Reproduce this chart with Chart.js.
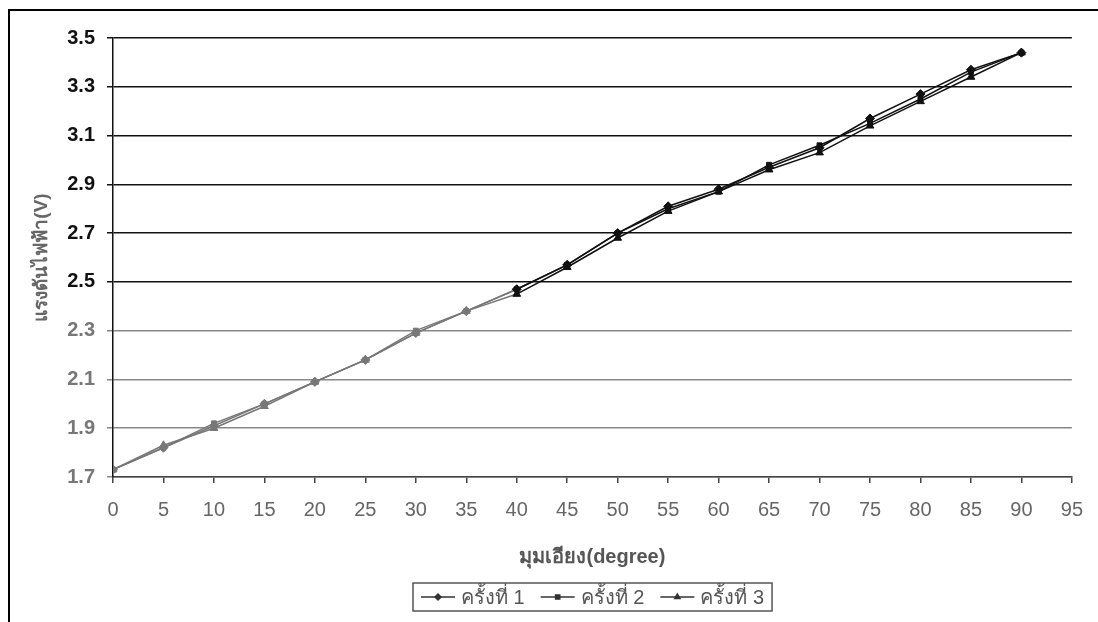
<!DOCTYPE html>
<html>
<head>
<meta charset="utf-8">
<script src="https://cdn.jsdelivr.net/npm/chart.js@4.4.0/dist/chart.umd.min.js"></script>
<style>
  html, body { margin: 0; padding: 0; background: #fff; }
  canvas { display: block; }
</style>
</head>
<body>
<canvas id="voltChart" width="1098" height="622"></canvas>
<script>
// tilt angle (degree) vs voltage (V), three runs
const angles = [0, 5, 10, 15, 20, 25, 30, 35, 40, 45, 50, 55, 60, 65, 70, 75, 80, 85, 90];
const run1 = [1.73, 1.82, 1.91, 2.00, 2.09, 2.18, 2.29, 2.38, 2.47, 2.57, 2.70, 2.81, 2.88, 2.97, 3.05, 3.17, 3.27, 3.37, 3.44];
const run2 = [1.73, 1.82, 1.92, 2.00, 2.09, 2.18, 2.30, 2.38, 2.47, 2.57, 2.70, 2.80, 2.87, 2.98, 3.06, 3.15, 3.25, 3.36, 3.44];
const run3 = [1.73, 1.83, 1.90, 1.99, 2.09, 2.18, 2.29, 2.38, 2.45, 2.56, 2.68, 2.79, 2.87, 2.96, 3.03, 3.14, 3.24, 3.34, 3.44];
const runLabels = ['ครั้งที่ 1', 'ครั้งที่ 2', 'ครั้งที่ 3'];
const runMarkers = ['rectRot', 'rect', 'triangle'];
const yTicks = [1.7, 1.9, 2.1, 2.3, 2.5, 2.7, 2.9, 3.1, 3.3, 3.5];
const xTicks = [0, 5, 10, 15, 20, 25, 30, 35, 40, 45, 50, 55, 60, 65, 70, 75, 80, 85, 90, 95];

const fontFamily = "'Liberation Sans', Arial, 'DejaVu Sans', sans-serif";
const dark = '#111';
const faded = '#777';

// the scan is lighter in the lower left part of the plot
const lineColour = ctx => (ctx.raw && ctx.raw.x < 40 ? faded : dark);

const toPoints = vals => vals.map((v, i) => ({ x: angles[i], y: v }));

const datasets = [run1, run2, run3].map((vals, i) => ({
  label: runLabels[i],
  data: toPoints(vals),
  borderColor: dark,
  borderWidth: 1.5,
  pointStyle: runMarkers[i],
  pointRadius: i === 1 ? 3.5 : 4.5,
  pointBackgroundColor: lineColour,
  pointBorderColor: lineColour,
  pointBorderWidth: 1,
  tension: 0,
  segment: {
    borderColor: ctx => (ctx.p0.parsed.x < 40 ? faded : dark)
  }
}));

// outer frame like the scanned page
const framePlugin = {
  id: 'frame',
  beforeDraw(chart) {
    const { ctx } = chart;
    ctx.save();
    ctx.strokeStyle = '#000';
    ctx.lineWidth = 2;
    ctx.beginPath();
    ctx.moveTo(9, chart.height);
    ctx.lineTo(9, 10);
    ctx.lineTo(chart.width, 10);
    ctx.stroke();
    ctx.restore();
  }
};

// excel style legend: line + marker, boxed, under the x title
const boxLegend = {
  id: 'boxLegend',
  afterDraw(chart) {
    const { ctx, chartArea } = chart;
    const lineLen = 34;
    const gapText = 6;
    const gapItem = 16;
    const padX = 8;
    const boxH = 28;
    const cy = 597;
    ctx.save();
    ctx.font = `20px ${fontFamily}`;
    const widths = chart.data.datasets.map(d => ctx.measureText(d.label).width);
    const total = widths.reduce((s, w) => s + lineLen + gapText + w, 0) + gapItem * (widths.length - 1) + padX * 2;
    const left = Math.round((chartArea.left + chartArea.right) / 2 - total / 2);

    ctx.strokeStyle = '#555';
    ctx.lineWidth = 1.5;
    ctx.strokeRect(left, cy - boxH / 2, total, boxH);

    let x = left + padX;
    chart.data.datasets.forEach((d, i) => {
      ctx.strokeStyle = '#333';
      ctx.lineWidth = 1.5;
      ctx.beginPath();
      ctx.moveTo(x, cy);
      ctx.lineTo(x + lineLen, cy);
      ctx.stroke();
      ctx.fillStyle = '#333';
      Chart.helpers.drawPoint(ctx, { pointStyle: d.pointStyle, radius: 3, rotation: 0, borderWidth: 1 }, x + lineLen / 2, cy);
      x += lineLen + gapText;
      ctx.fillStyle = '#555';
      ctx.textBaseline = 'middle';
      ctx.fillText(d.label, x, cy + 1);
      x += widths[i] + gapItem;
    });
    ctx.restore();
  }
};

new Chart(document.getElementById('voltChart'), {
  type: 'line',
  data: { datasets },
  plugins: [framePlugin, boxLegend],
  options: {
    responsive: false,
    animation: false,
    devicePixelRatio: 1,
    layout: { padding: { left: 0, right: 22, top: 38, bottom: 0 } },
    plugins: {
      legend: { display: false },
      tooltip: { enabled: false }
    },
    scales: {
      x: {
        type: 'linear',
        min: 0,
        max: 95,
        afterBuildTicks: s => { s.ticks = xTicks.map(v => ({ value: v })); },
        afterFit: s => { s.height = 145; },
        border: { color: '#444', width: 1.5 },
        grid: { drawOnChartArea: false, drawTicks: true, tickLength: 6, color: '#444', lineWidth: 1.5 },
        ticks: {
          color: '#666',
          padding: 15,
          maxRotation: 0,
          autoSkip: false,
          font: { family: fontFamily, size: 20 }
        },
        title: {
          display: true,
          text: 'มุมเอียง(degree)',
          color: '#555',
          font: { family: fontFamily, size: 20, weight: 'bold' },
          padding: { top: 4, bottom: 53 }
        }
      },
      y: {
        type: 'linear',
        min: 1.7,
        max: 3.5,
        afterBuildTicks: s => { s.ticks = yTicks.map(v => ({ value: v })); },
        afterFit: s => { s.width = 113; },
        border: { color: '#111', width: 1.5 },
        grid: {
          color: ctx => (ctx.tick && ctx.tick.value < 2.45 ? '#888' : '#111'),
          lineWidth: 1.5,
          tickLength: 6
        },
        ticks: {
          color: ctx => (ctx.tick && ctx.tick.value < 2.45 ? '#777' : '#111'),
          padding: 12,
          callback: v => Number(v).toFixed(1),
          font: { family: fontFamily, size: 20, weight: 'bold' }
        },
        title: {
          display: true,
          text: 'แรงดันไฟฟ้า(V)',
          color: '#666',
          font: { family: fontFamily, size: 19, weight: 'bold' },
          padding: { top: 30, bottom: 0 }
        }
      }
    }
  }
});
</script>
</body>
</html>
